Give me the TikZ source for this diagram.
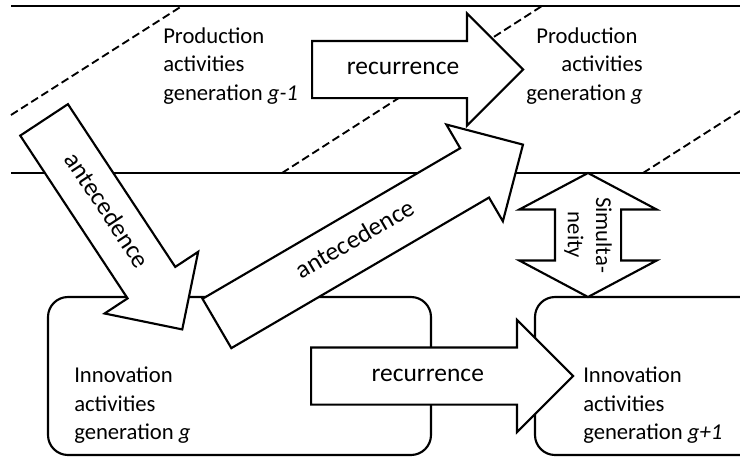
\documentclass[tikz,border=0pt]{standalone}
\usepackage{fontspec}
\setmainfont{Carlito}
\usetikzlibrary{shapes.arrows,calc}

\begin{document}
\begin{tikzpicture}[
    x=0.75pt, y=-0.75pt,
    rule/.style={line width=1.6pt},
    genline/.style={line width=1.4pt, dash pattern=on 6pt off 3pt},
    innobox/.style={draw, line width=1.6pt, rounded corners=15pt},
    gentext/.style={font=\fontsize{17}{21.2}\selectfont, inner sep=0pt},
    blockarrow/.style={single arrow, draw, fill=white, line width=1.6pt, inner sep=0pt, text height=41.25pt, text depth=0pt, single arrow head extend=20.6pt, single arrow tip angle=90, minimum width=0pt, anchor=tail},
    twinarrow/.style={double arrow, draw, fill=white, line width=1.6pt, inner sep=0pt, text height=48pt, text depth=0pt, double arrow head extend=26.6pt, double arrow tip angle=124, minimum width=0pt},
    arrowlabel/.style={font=\fontsize{19.1}{23}\selectfont, inner sep=0pt, text height=0.75em, text depth=0pt}
]
    \useasboundingbox (0,0) rectangle (740,457);

    % Production layer
    \draw[rule] (11,6) -- (740,6);
    \draw[rule] (11,173) -- (740,173);
    \draw[genline] (11,115) -- (182,6);
    \draw[genline] (282,173) -- (542,6);
    \draw[genline] (643,173) -- (740,111);

    % Innovation boxes
    \draw[innobox] (48,297) rectangle (431,455);
    \draw[innobox] (740,297) -- (535,297) -- (535,455) -- (740,455);

    % Activities (base = last line)
    \node[gentext, align=left, anchor=base west] (prodPrev) at (163,100) {Production\\activities\\generation \textit{g-1}};
    \node[gentext, align=right, anchor=base east] (prodCur) at (643,100) {Production\hspace*{0.23em}\\activities\\generation \textit{g}};
    \node[gentext, align=left, anchor=base west] (innoCur) at (74,439.5) {Innovation\\activities\\generation \textit{g}};
    \node[gentext, align=left, anchor=base west] (innoNext) at (583,439.5) {Innovation\\activities\\generation \textit{g+1}};

    % Block arrows
    \node[blockarrow, minimum height=211*0.75pt] (recProd) at (311,69.5) {};
    \node[arrowlabel] (recProdLbl) at ($(recProd.tail)!0.431!(recProd.tip)$) {recurrence};

    \node[blockarrow, rotate=-56.6, minimum height=251*0.75pt] (antDown) at (43.5,119) {};
    \node[arrowlabel, rotate=-56.6] (antDownLbl) at ($(antDown.tail)!0.438!(antDown.tip)$) {antecedence};

    \node[blockarrow, rotate=30.3, minimum height=354.5*0.75pt] (antUp) at (216,324) {};
    \node[arrowlabel, rotate=30.3] (antUpLbl) at ($(antUp.tail)!0.456!(antUp.tip)$) {antecedence};

    \node[blockarrow, minimum height=262*0.75pt] (recInno) at (310,376) {};
    \node[arrowlabel] (recInnoLbl) at ($(recInno.tail)!0.445!(recInno.tip)$) {recurrence};

    \node[twinarrow, rotate=90, minimum height=124*0.75pt] (simul) at (588,235) {};
    \node[gentext, rotate=-90, align=center] (simulLbl) at (simul.center) {Simulta-\\neity};
\end{tikzpicture}
\end{document}
